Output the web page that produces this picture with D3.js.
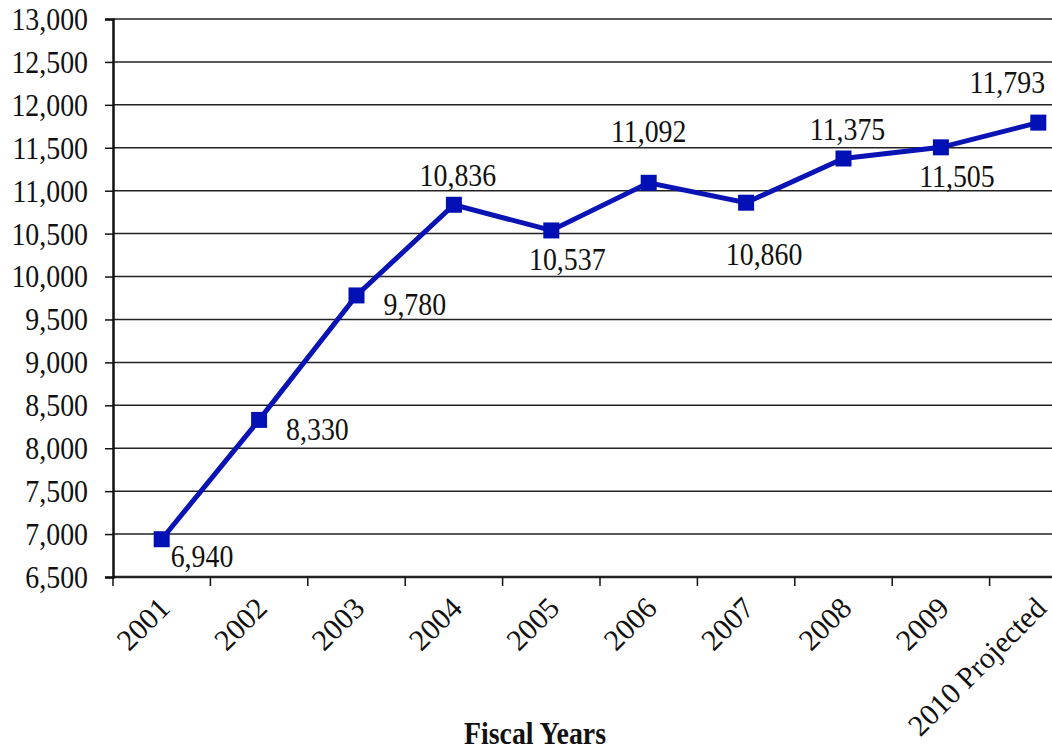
<!DOCTYPE html>
<html>
<head>
<meta charset="utf-8">
<script src="https://cdn.jsdelivr.net/npm/d3@7"></script>
<style>
  body { margin: 0; background: #fff; }
  text { font-family: "Liberation Serif", "Times New Roman", serif; fill: #111; }
</style>
</head>
<body>
<div id="chart"></div>
<script>
var years = ['2001', '2002', '2003', '2004', '2005', '2006', '2007', '2008', '2009', '2010 Projected'];
var counts = [6940, 8330, 9780, 10836, 10537, 11092, 10860, 11375, 11505, 11793];
var labelSide = ['belowright', 'right', 'right', 'above', 'below', 'abovefar', 'belowfar', 'above', 'below', 'aboveleft'];
var yTicks = d3.range(6500, 13001, 500);

var width = 1052, height = 756;
var margin = {top: 19, left: 113, bottom: 179};
var narrow = 0.87; // text in the original is squeezed sideways

// label offsets from the marker: [dx, dy, anchor]
var sideOffset = {
  belowright: [9, 28, 'start'],
  right: [27, 20, 'start'],
  above: [4, -19, 'middle'],
  abovefar: [0, -41, 'middle'],
  below: [16, 40, 'middle'],
  belowfar: [18, 62, 'middle'],
  aboveleft: [-31, -30, 'middle']
};

var svg = d3.select('#chart')
  .append('svg')
  .attr('width', width)
  .attr('height', height);

var x = d3.scaleBand()
  .domain(years)
  .range([margin.left, margin.left + 974]);

var y = d3.scaleLinear()
  .domain([6500, 13000])
  .range([height - margin.bottom, margin.top]);

function cx(d) { return x(d) + x.bandwidth() / 2; }
function squeeze(px, py) { return 'translate(' + px + ',' + py + ') scale(' + narrow + ',1)'; }

// gridlines
svg.append('g')
  .selectAll('line')
  .data(yTicks)
  .enter()
    .append('line')
    .attr('x1', margin.left)
    .attr('x2', width)
    .attr('y1', function(d){ return y(d); })
    .attr('y2', function(d){ return y(d); })
    .attr('stroke', '#222')
    .attr('stroke-width', function(d){ return d === 6500 ? 2.5 : 1.5; });

// y axis
var yAxis = svg.append('g')
  .attr('transform', 'translate(' + margin.left + ',0)')
  .call(d3.axisLeft(y).tickValues(yTicks).tickSize(8).tickFormat(''));
yAxis.select('.domain').attr('stroke', '#111').attr('stroke-width', 2.5);
yAxis.selectAll('.tick line').attr('stroke', '#111').attr('stroke-width', 1.5);

svg.append('g')
  .selectAll('text')
  .data(yTicks)
  .enter()
    .append('text')
    .attr('transform', function(d){ return squeeze(88, y(d)); })
    .attr('text-anchor', 'end')
    .attr('dy', '0.34em')
    .style('font-size', '32px')
    .text(function(d){ return d3.format(',')(d); });

// x axis ticks
svg.append('g')
  .selectAll('line')
  .data(years)
  .enter()
    .append('line')
    .attr('x1', function(d){ return x(d); })
    .attr('x2', function(d){ return x(d); })
    .attr('y1', y(6500))
    .attr('y2', y(6500) + 9)
    .attr('stroke', '#111')
    .attr('stroke-width', 1.5);

svg.append('g')
  .selectAll('text')
  .data(years)
  .enter()
    .append('text')
    .attr('transform', function(d){ return 'translate(' + (cx(d) - 5) + ',' + (y(6500) + 18) + ') rotate(-45)'; })
    .attr('text-anchor', 'end')
    .attr('dy', '0.7em')
    .style('font-size', '30px')
    .text(function(d){ return d; });

// line
var line = d3.line()
  .x(function(d, i){ return cx(years[i]); })
  .y(function(d){ return y(d); });

svg.append('path')
  .datum(counts)
  .attr('d', line)
  .attr('fill', 'none')
  .attr('stroke', '#0a14b4')
  .attr('stroke-width', 5);

svg.append('g')
  .selectAll('rect')
  .data(counts)
  .enter()
    .append('rect')
    .attr('x', function(d, i){ return cx(years[i]) - 8; })
    .attr('y', function(d){ return y(d) - 8; })
    .attr('width', 16)
    .attr('height', 16)
    .attr('fill', '#0010b4');

// data labels
svg.append('g')
  .selectAll('text')
  .data(counts)
  .enter()
    .append('text')
    .attr('transform', function(d, i){
      var o = sideOffset[labelSide[i]];
      return squeeze(cx(years[i]) + o[0], y(d) + o[1]);
    })
    .attr('text-anchor', function(d, i){ return sideOffset[labelSide[i]][2]; })
    .style('font-size', '32px')
    .text(function(d){ return d3.format(',')(d); });

svg.append('text')
  .attr('transform', squeeze(535, 744))
  .attr('text-anchor', 'middle')
  .style('font-size', '32px')
  .style('font-weight', 'bold')
  .text('Fiscal Years');
</script>
</body>
</html>
